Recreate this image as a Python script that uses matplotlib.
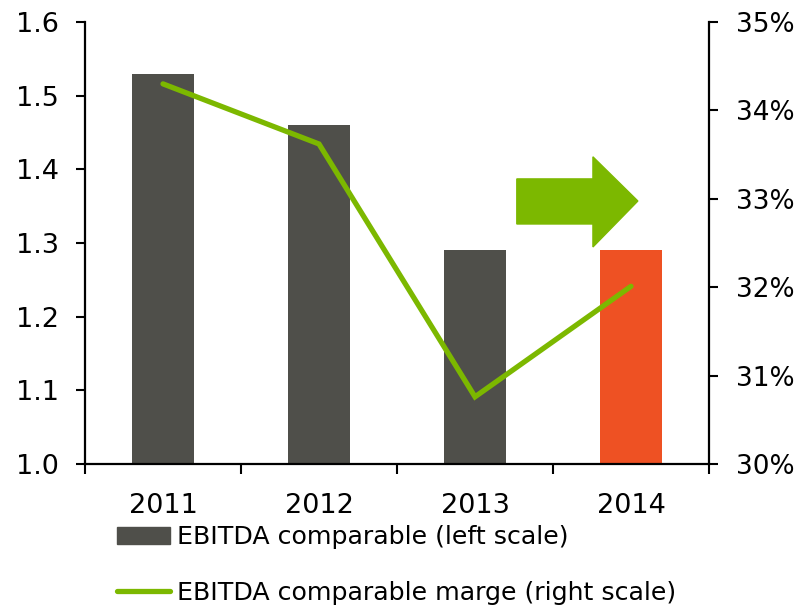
import matplotlib
matplotlib.use("Agg")
import matplotlib.pyplot as plt
from matplotlib.patches import Polygon, Patch
from matplotlib.lines import Line2D
from matplotlib.ticker import FuncFormatter, FixedLocator

years = ["2011", "2012", "2013", "2014"]
ebitda = [1.53, 1.46, 1.29, 1.29]
margin = [0.3430, 0.3362, 0.3076, 0.3201]
bar_colors = ["#4f4f4a", "#4f4f4a", "#4f4f4a", "#ee5123"]
green = "#7cb800"

plt.rcParams['font.family'] = ['DejaVu Sans']
fig = plt.figure(figsize=(7.94, 6.11), dpi=100)
ax = fig.add_axes([85/794, 1-464/611, (709-85)/794, (464-22)/611])
x = list(range(len(years)))
ax.bar(x, ebitda, width=0.4, color=bar_colors, zorder=2)
ax.set_ylim(1.0, 1.6)
ax.set_xlim(-0.5, 3.5)
ax.set_yticks([1.0, 1.1, 1.2, 1.3, 1.4, 1.5, 1.6])
ax.yaxis.set_major_formatter(FuncFormatter(lambda v, p: f"{v:.1f}"))
ax.set_xticks(x)
ax.set_xticklabels(years)
ax.xaxis.set_minor_locator(FixedLocator([-0.5, 0.5, 1.5, 2.5, 3.5]))
ax.tick_params(axis='x', which='major', length=0, pad=21, labelsize=19.5)
ax.tick_params(axis='x', which='minor', length=7, width=1.5, direction='out')
ax.tick_params(axis='y', length=6.5, width=1.5, pad=12, labelsize=19.5)
for s in ['left', 'bottom']:
    ax.spines[s].set_linewidth(1.6)
ax.spines['top'].set_visible(False)
ax.spines['right'].set_visible(False)

ax2 = ax.twinx()
ax2.plot(x, margin, color=green, lw=3.8, solid_capstyle='round', solid_joinstyle='miter', zorder=3)
ax2.set_ylim(0.30, 0.35)
ax2.set_yticks([0.30, 0.31, 0.32, 0.33, 0.34, 0.35])
ax2.yaxis.set_major_formatter(FuncFormatter(lambda v, p: f"{v*100:.0f}%"))
ax2.tick_params(axis='y', length=6.5, width=1.5, pad=13, labelsize=19)
ax2.spines['right'].set_linewidth(1.6)
for s in ['top', 'left', 'bottom']:
    ax2.spines[s].set_visible(False)

# decorative arrow (axes fraction)
arrow = Polygon([(0.692, 0.645), (0.814, 0.645), (0.814, 0.695), (0.886, 0.595),
                 (0.814, 0.491), (0.814, 0.543), (0.692, 0.543)],
                closed=True, transform=ax2.transAxes, color=green, zorder=4)
ax2.add_patch(arrow)

handles = [Patch(color="#4f4f4a"), Line2D([0], [0], color=green, lw=3.8, solid_capstyle='round')]
labels = ["EBITDA comparable (left scale)", "EBITDA comparable marge (right scale)"]
fig.legend(handles, labels, loc='upper left', bbox_to_anchor=(0.135, 1-515/611),
           frameon=False, fontsize=18.2, handlelength=2.1, handleheight=0.66,
           handletextpad=0.27, labelspacing=1.25, borderaxespad=0)

fig.savefig("out.png", dpi=100)
